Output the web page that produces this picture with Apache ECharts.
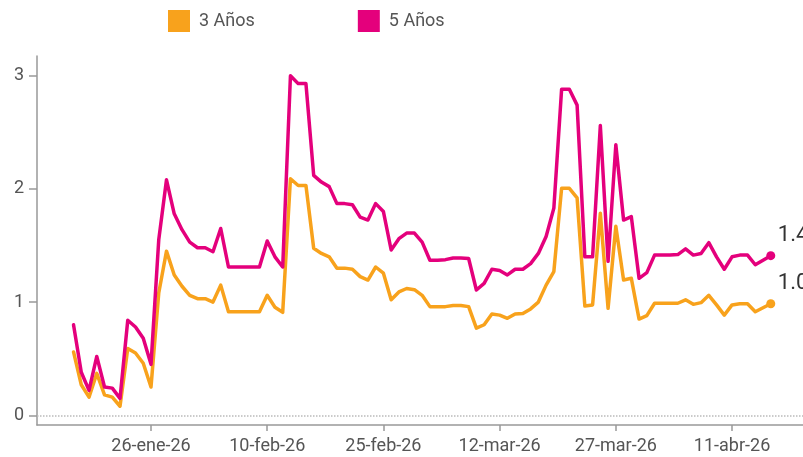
<!DOCTYPE html>
<html>
<head>
<meta charset="utf-8">
<script src="https://cdn.jsdelivr.net/npm/echarts@6/dist/echarts.min.js"></script>
<style>
  html, body { margin: 0; padding: 0; background: #fff; }
  #chart { width: 803px; height: 457px; }
</style>
</head>
<body>
<div id="chart"></div>
<script>
// primer dia de la serie (16-ene-26), un valor por dia
var inicio = [2026, 0, 16];

var tresAnos = [
    0.56, 0.27, 0.16, 0.37, 0.18, 0.16, 0.08, 0.59, 0.55, 0.46,
    0.25, 1.08, 1.45, 1.24, 1.14, 1.06, 1.03, 1.03, 1.00, 1.15,
    0.915, 0.915, 0.915, 0.915, 0.915, 1.06, 0.955, 0.91, 2.09, 2.03,
    2.03, 1.475, 1.43, 1.40, 1.30, 1.30, 1.29, 1.225, 1.195, 1.31,
    1.255, 1.02, 1.09, 1.12, 1.11, 1.06, 0.96, 0.96, 0.96, 0.97,
    0.97, 0.96, 0.77, 0.80, 0.895, 0.885, 0.857, 0.895, 0.90, 0.94,
    1.00, 1.15, 1.27, 2.005, 2.005, 1.92, 0.965, 0.975, 1.785, 0.945,
    1.67, 1.195, 1.21, 0.85, 0.88, 0.99, 0.99, 0.99, 0.99, 1.02,
    0.98, 0.995, 1.06, 0.975, 0.885, 0.975, 0.985, 0.985, 0.915, 0.95,
    0.985
];

var cincoAnos = [
    0.80, 0.38, 0.22, 0.52, 0.25, 0.24, 0.15, 0.84, 0.78, 0.68,
    0.45, 1.55, 2.08, 1.78, 1.64, 1.53, 1.48, 1.48, 1.445, 1.65,
    1.31, 1.31, 1.31, 1.31, 1.31, 1.54, 1.40, 1.31, 3.00, 2.93,
    2.93, 2.12, 2.06, 2.02, 1.87, 1.87, 1.86, 1.75, 1.725, 1.87,
    1.80, 1.46, 1.56, 1.61, 1.61, 1.53, 1.37, 1.37, 1.375, 1.39,
    1.39, 1.385, 1.107, 1.166, 1.29, 1.28, 1.24, 1.29, 1.29, 1.34,
    1.43, 1.58, 1.83, 2.88, 2.88, 2.74, 1.40, 1.40, 2.56, 1.36,
    2.39, 1.725, 1.755, 1.21, 1.26, 1.415, 1.415, 1.415, 1.42, 1.47,
    1.415, 1.43, 1.525, 1.40, 1.29, 1.40, 1.415, 1.415, 1.33, 1.37,
    1.41
];

var etiquetasX = ['26-ene-26', '10-feb-26', '25-feb-26', '12-mar-26', '27-mar-26', '11-abr-26'];
var ticksY = [0, 1, 2, 3];
var meses = ['ene', 'feb', 'mar', 'abr', 'may', 'jun', 'jul', 'ago', 'sep', 'oct', 'nov', 'dic'];

function etiquetaDia(i) {
    var d = new Date(inicio[0], inicio[1], inicio[2] + i);
    return d.getDate() + '-' + meses[d.getMonth()] + '-' + String(d.getFullYear()).slice(2);
}

var dias = tresAnos.map(function (v, i) { return etiquetaDia(i); });
var posTicksX = etiquetasX.map(function (e) { return dias.indexOf(e); });

function serie(valores) {
    return valores.map(function (v, i) { return [i, v]; });
}

var ultimo = tresAnos.length - 1;
var fuente = 'Roboto, sans-serif';

var chart = echarts.init(document.getElementById('chart'), null, { renderer: 'canvas' });

function linea(nombre, color, valores, extra) {
    var s = {
        name: nombre,
        type: 'line',
        data: serie(valores),
        color: color,
        symbol: 'circle',
        showAllSymbol: true,
        symbolSize: function (v, p) { return p.dataIndex === ultimo ? 9 : 0; },
        lineStyle: { width: 3.5, color: color, join: 'round', cap: 'round' },
        itemStyle: { color: color },
        endLabel: {
            show: true,
            formatter: function (p) { return p.value[1].toFixed(1); },
            fontFamily: fuente,
            fontSize: 22,
            color: '#333',
            offset: [-1, -20]
        },
        animation: false
    };
    if (extra) s.markLine = extra;
    return s;
}

var option = {
    backgroundColor: '#fff',
    textStyle: { fontFamily: fuente },
    legend: {
        left: 168,
        top: 10,
        padding: 0,
        itemWidth: 22,
        itemHeight: 22,
        itemGap: 103,
        icon: 'rect',
        textStyle: { fontFamily: fuente, fontSize: 18, color: '#555', padding: [0, 0, 0, 4] },
        data: ['3 Años', '5 Años']
    },
    grid: { left: 37, right: 0, top: 56, bottom: 32, containLabel: false },
    xAxis: {
        type: 'value',
        min: -4.715,
        max: 94.16,
        splitLine: { show: false },
        axisLine: { onZero: false, lineStyle: { color: '#999', width: 1.5 } },
        axisTick: { show: true, length: 6, customValues: posTicksX, lineStyle: { color: '#999', width: 1.5 } },
        axisLabel: {
            customValues: posTicksX,
            margin: 12,
            fontFamily: fuente,
            fontSize: 18,
            color: '#555',
            formatter: function (v) { return dias[Math.round(v)]; }
        }
    },
    yAxis: {
        type: 'value',
        min: -0.0857,
        max: 3.174,
        splitLine: { show: false },
        axisLine: { show: true, onZero: false, lineStyle: { color: '#999', width: 1.5 } },
        axisTick: { show: true, length: 8, customValues: ticksY, lineStyle: { color: '#999', width: 1.5 } },
        axisLabel: {
            customValues: ticksY,
            margin: 13,
            fontFamily: fuente,
            fontSize: 18,
            color: '#555'
        }
    },
    series: [
        linea('3 Años', '#F8A21C', tresAnos, {
            silent: true,
            symbol: ['none', 'none'],
            label: { show: false },
            lineStyle: { color: '#bbb', type: 'dotted', width: 1.5 },
            data: [{ yAxis: 0 }]
        }),
        linea('5 Años', '#E4007C', cincoAnos)
    ]
};

chart.setOption(option);
</script>
</body>
</html>
